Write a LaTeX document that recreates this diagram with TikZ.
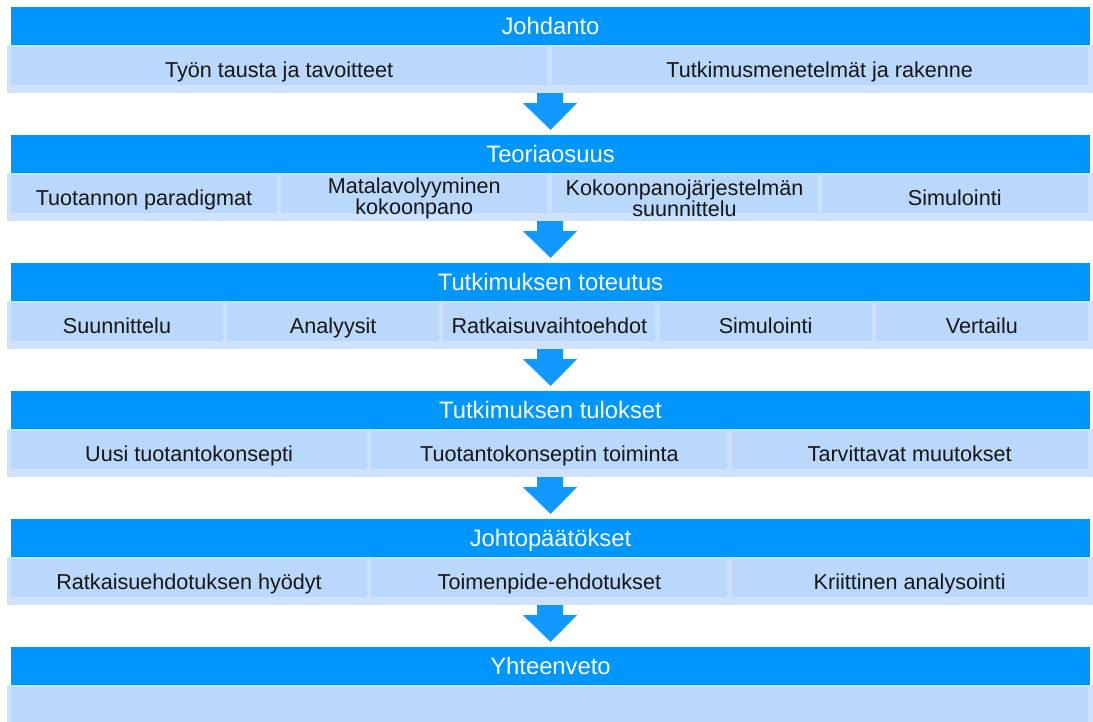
\documentclass[tikz,border=0pt]{standalone}
\usepackage{fontspec}
\setmainfont{Liberation Sans}
\usetikzlibrary{calc}

\definecolor{headblue}{RGB}{0,150,255}
\definecolor{arrowblue}{RGB}{18,152,255}
\definecolor{framefill}{RGB}{207,226,253}
\definecolor{boxfill}{RGB}{185,216,252}
\definecolor{boxedge}{RGB}{203,225,253}
\definecolor{bodytext}{RGB}{22,22,22}

\tikzset{
  header/.style={rectangle, fill=headblue, text=white, minimum width=1079pt,
    minimum height=38pt, inner sep=0pt, text height=18pt, text depth=0.6pt,
    font=\fontsize{23.8}{24}\selectfont},
  framebar/.style={rectangle, fill=framefill, minimum width=1086pt,
    minimum height=48pt, inner sep=0pt},
  subbox/.style={rectangle, fill=boxfill, draw=boxedge, line width=1.2pt,
    minimum height=39pt, inner sep=0pt},
  boxtext/.style={text=bodytext, align=center, inner sep=0pt,
    font=\fontsize{21.6}{21}\selectfont},
  oneline/.style={text height=18pt, text depth=1pt},
  flowarrow/.style={fill=arrowblue},
}

% A row of equal sub-boxes inside a frame bar: #1 frame, #2 count,
% #3 items written lines/label
\newcommand\subrow[3]{%
  \foreach \n/\txt [count=\i] in {#3} {
    \pgfmathsetmacro\bw{1081/#2}
    \node[subbox, minimum width={\bw-3}, anchor=north west] (#1b\i)
      at ($(#1.north west)+({3+(\i-1)*\bw},1)$) {};
    \ifnum\n=1
      \node[boxtext, oneline] (#1t\i) at (#1b\i.center |- #1.center) {\txt};
    \else
      \node[boxtext] (#1t\i) at ($(#1b\i.center |- #1.center)+(0,1.5)$) {\txt};
    \fi
  }}

% Downward block arrow from a frame bar to the next header
\newcommand\blockarrow[2]{%
  \path[flowarrow] ($(#1.south)+(-13,0)$) -- ++(0,10) -- ++(-14,0)
    -- ($(#2.north)+(0,-5)$) -- ($(#1.south)+(27,10)$) -- ++(-14,0)
    -- ++(0,-10) -- cycle;}

\begin{document}
\begin{tikzpicture}[x=1pt,y=-1pt]
  \path[use as bounding box, clip] (0,0) rectangle (1093,722);

  % section headers and their frame bars
  \foreach \k/\title in {1/Johdanto, 2/Teoriaosuus, 3/Tutkimuksen toteutus,
      4/Tutkimuksen tulokset, 5/Johtopäätökset, 6/Yhteenveto} {
    \node[framebar] (f\k) at (550, {69+128*(\k-1)}) {};
    \node[header] (h\k) at (550.5, {26+128*(\k-1)}) {\title};
  }

  \subrow{f1}{2}{1/Työn tausta ja tavoitteet, 1/Tutkimusmenetelmät ja rakenne}
  \subrow{f2}{4}{1/Tuotannon paradigmat, 2/{Matalavolyyminen\\kokoonpano},
    2/{Kokoonpanojärjestelmän\\suunnittelu}, 1/Simulointi}
  \subrow{f3}{5}{1/Suunnittelu, 1/Analyysit, 1/Ratkaisuvaihtoehdot,
    1/Simulointi, 1/Vertailu}
  \subrow{f4}{3}{1/Uusi tuotantokonsepti, 1/Tuotantokonseptin toiminta,
    1/Tarvittavat muutokset}
  \subrow{f5}{3}{1/Ratkaisuehdotuksen hyödyt, 1/Toimenpide-ehdotukset,
    1/Kriittinen analysointi}
  \subrow{f6}{1}{1/{}}

  % arrows between sections
  \blockarrow{f1}{h2}
  \blockarrow{f2}{h3}
  \blockarrow{f3}{h4}
  \blockarrow{f4}{h5}
  \blockarrow{f5}{h6}
\end{tikzpicture}
\end{document}
